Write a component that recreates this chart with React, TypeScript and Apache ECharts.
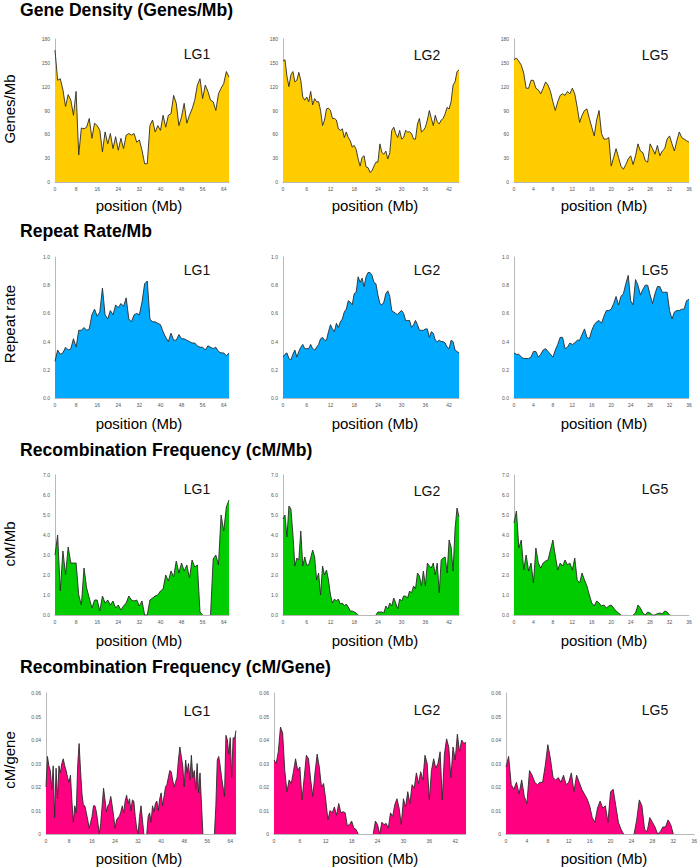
import React, { useEffect, useRef } from "react";
import * as echarts from "echarts";

const FONT = "'Liberation Sans', Arial, Helvetica, sans-serif";

// ---------- Row 1: Gene density (genes/Mb) ----------
const GD_LG1_STEP = 1;
const GD_LG1 = [166,128,130,116,95,110,103,84,114,34,
  68,67,69,80,55,74,71,65,38,63,
  48,61,42,57,40,55,42,59,61,59,
  61,50,53,40,23,23,71,78,63,71,
  65,84,69,84,86,109,99,71,82,99,
  74,84,92,103,122,130,105,122,114,103,
  101,90,111,118,124,139,132];
const GD_LG2_STEP = 0.5;
const GD_LG2 = [152,154,133,120,135,139,126,128,138,128,
  107,103,107,101,114,97,105,101,101,90,
  71,78,92,93,90,80,80,78,67,65,
  67,56,63,56,52,44,46,41,29,20,
  31,33,19,18,12,14,20,25,25,48,
  37,35,39,29,37,65,69,61,56,65,
  54,56,65,63,63,61,54,54,73,80,
  63,65,69,78,90,80,71,84,76,73,
  78,80,86,94,92,101,122,126,139,141];
const GD_LG5_STEP = 0.5;
const GD_LG5 = [154,156,152,147,137,118,118,128,128,118,
  116,111,118,126,122,114,101,90,101,109,
  111,109,114,111,118,111,94,75,84,90,
  92,80,69,58,78,90,61,54,54,56,
  20,31,42,31,20,16,22,29,33,22,
  33,48,39,37,27,25,48,42,35,46,
  33,39,42,54,58,48,39,52,63,56,
  54,52,50];

// ---------- Row 2: Repeat rate ----------
const RR_LG1_STEP = 1;
const RR_LG1 = [0.26,0.34,0.31,0.32,0.36,0.34,0.35,0.42,0.36,0.48,
  0.48,0.50,0.48,0.49,0.59,0.63,0.58,0.61,0.78,0.59,
  0.56,0.62,0.59,0.66,0.64,0.67,0.65,0.71,0.56,0.54,
  0.59,0.60,0.59,0.68,0.81,0.83,0.56,0.54,0.54,0.53,
  0.52,0.47,0.43,0.40,0.46,0.41,0.41,0.45,0.42,0.42,
  0.41,0.40,0.39,0.39,0.37,0.36,0.36,0.34,0.37,0.36,
  0.35,0.36,0.33,0.32,0.32,0.30,0.32];
const RR_LG2_STEP = 0.5;
const RR_LG2 = [0.29,0.31,0.32,0.28,0.27,0.31,0.34,0.29,0.33,0.36,
  0.38,0.35,0.35,0.35,0.38,0.35,0.34,0.36,0.38,0.42,
  0.43,0.41,0.41,0.47,0.52,0.49,0.47,0.53,0.50,0.54,
  0.56,0.61,0.63,0.69,0.68,0.66,0.74,0.75,0.86,0.82,
  0.85,0.79,0.86,0.89,0.89,0.87,0.82,0.81,0.73,0.67,
  0.66,0.68,0.74,0.76,0.72,0.62,0.61,0.60,0.59,0.61,
  0.62,0.60,0.55,0.55,0.55,0.50,0.52,0.55,0.52,0.48,
  0.48,0.48,0.49,0.49,0.43,0.47,0.46,0.41,0.40,0.41,
  0.40,0.40,0.39,0.36,0.35,0.41,0.40,0.34,0.33,0.32];
const RR_LG5_STEP = 0.5;
const RR_LG5 = [0.32,0.31,0.31,0.29,0.28,0.28,0.28,0.29,0.33,0.33,
  0.29,0.31,0.34,0.35,0.33,0.31,0.29,0.34,0.38,0.43,
  0.43,0.35,0.36,0.39,0.38,0.39,0.41,0.41,0.45,0.49,
  0.43,0.42,0.48,0.52,0.54,0.55,0.53,0.58,0.62,0.62,
  0.63,0.67,0.72,0.66,0.72,0.74,0.81,0.87,0.69,0.66,
  0.84,0.80,0.73,0.77,0.80,0.80,0.73,0.67,0.74,0.79,
  0.79,0.75,0.75,0.75,0.62,0.56,0.61,0.62,0.62,0.63,
  0.63,0.69,0.70];

// ---------- Row 3: Recombination frequency (cM/Mb) ----------
const RF_LG1_STEP = 1;
const RF_LG1 = [3.0,4.0,1.2,3.2,2.0,3.4,2.6,2.6,2.6,1.0,
  0.5,2.35,1.35,0.85,0.35,0.75,0.75,0.2,0.95,0.6,
  0.75,0.5,0.7,0.35,0.5,0.25,0.45,0.6,0.95,0.75,
  0.7,0.75,0.45,0.7,0,0,0.75,0.85,0.95,1.0,
  1.2,1.3,2.0,1.7,2.2,1.9,2.7,2.1,2.6,2.2,
  2.5,1.85,2.75,2.4,2.5,0.15,0,null,null,0,
  2.8,3.0,2.5,5.0,4.2,5.4,5.75];
const RF_LG2_STEP = 0.5;
const RF_LG2 = [4.8,5.0,3.9,5.45,5.3,4.05,2.45,2.85,2.75,4.2,
  2.45,2.9,2.5,2.5,2.85,3.25,2.9,1.75,2.1,1.0,
  2.45,2.0,2.25,1.75,1.0,0.6,0.8,0.7,0.8,0.55,
  0.6,0.45,0.55,0.4,0.2,0.2,0.15,0.1,0,null,
  null,null,null,null,null,null,null,0,0.15,0.15,
  0.15,0.1,0.45,0.3,0.6,0.45,0.85,0.6,0.3,0.8,
  0.7,0.95,0.95,0.85,1.2,1.1,1.45,1.3,2.1,1.95,
  1.45,2.2,1.45,2.6,2.45,2.35,2.6,2.0,2.6,1.1,
  2.75,2.85,2.9,2.1,3.75,3.4,2.2,4.3,5.35,4.9];
const RF_LG5_STEP = 0.5;
const RF_LG5 = [4.6,5.2,3.35,3.75,2.25,3.0,2.2,2.6,1.6,3.35,
  2.6,2.35,2.6,2.7,2.75,3.25,3.75,2.95,2.25,2.6,
  2.45,2.75,2.5,2.6,2.25,2.85,1.75,1.6,2.1,1.75,
  1.45,1.0,0.6,0.45,0.7,0.6,0.45,0.5,0.35,0.45,
  0.5,0.35,0.2,0.1,0,null,null,null,null,0,
  0.1,0.5,0.35,0.1,0,0.15,0.1,0,0,0.07,
  0.1,0.05,0.2,0.15,0,null,null,null,null,null,
  null,null,null];

// ---------- Row 4: Recombination frequency (cM/gene) ----------
const RG_LG1_STEP = 0.5;
const RG_LG1 = [0.020,0.033,0.029,0.027,0.019,0.029,0.007,0.028,0.015,0.029,
  0.026,0.030,0.032,0.029,0.027,0.024,0.022,0.025,0.014,0.005,
  0.012,0.009,0.029,0.0385,0.027,0.017,0.012,0.012,0.009,0.006,
  0.0025,0.005,0.0075,0.012,0.012,0.0095,0.005,0,0.0045,0.012,
  0.0195,0.0145,0.0095,0.012,0.013,0.016,0.012,0.0075,0.0025,0.006,
  0.007,0.0075,0.0095,0.012,0.009,0.014,0.0165,0.013,0.015,0.010,
  0.0145,0.014,0.0075,0.0025,0,0.0075,0.012,0.006,0,null,
  0,0.0075,0.009,0.005,0.012,0.0095,0.013,0.014,0.010,0.015,
  0.0175,0.012,0.016,0.020,0.021,0.024,0.027,0.0265,0.023,0.020,
  0.022,0.024,0.0315,0.037,0.033,0.029,0.020,0.0315,0.026,0.030,
  0.023,0.0335,0.024,0.027,0.019,0.030,0.0175,0.026,0.013,0,
  null,null,null,null,null,null,null,0,0.012,0.0315,
  0.033,0.029,0.024,0.020,0.016,0.042,0.040,0.034,0.041,0.024,
  0.041,0.0405,0.044];
const RG_LG2_STEP = 0.5;
const RG_LG2 = [0.0315,0.030,0.035,0.0455,0.043,0.027,0.018,0.023,0.0215,0.0265,
  0.032,0.027,0.0285,0.0145,0.024,0.0335,0.032,0.023,0.016,0.026,
  0.034,0.0285,0.020,0.0215,0.0145,0.006,0.010,0.009,0.0115,0.008,
  0.013,0.009,0.0095,0.009,0.0035,0.004,0.0055,0.0025,0.002,0,
  null,null,null,null,null,null,0,0.0055,0.004,0,
  0.005,0.004,0.0045,0.0025,0.009,0.0075,0.0125,0.015,0.011,0.004,
  0.015,0.0115,0.018,0.013,0.021,0.0195,0.026,0.0215,0.0265,0.023,
  0.0335,0.030,0.0145,0.027,0.032,0.028,0.030,0.035,0.0145,0.034,
  0.0405,0.037,0.024,0.037,0.0315,0.0425,0.035,0.040,0.0385,0.039];
const RG_LG5_STEP = 0.5;
const RG_LG5 = [0.0285,0.033,0.021,0.019,0.022,0.017,0.023,0.016,0.013,0.027,
  0.025,0.022,0.021,0.022,0.022,0.029,0.038,0.032,0.024,0.023,
  0.024,0.022,0.025,0.021,0.022,0.026,0.018,0.025,0.022,0.019,
  0.017,0.015,0.012,0.007,0.005,0.011,0.014,0.011,0.012,0.005,
  0.018,0.019,0.012,0.005,0.002,0,null,null,null,0,
  0.006,0.0145,0.012,0.002,0.001,0.007,0.005,0.003,0,0.001,
  0.003,0.003,0.006,0.004,0,null,null,null,null,null,
  null,null,null];

// ---------- Axes / labels ----------
const GROUPS = ["LG1", "LG2", "LG5"];
const X_MAX = [66, 44.5, 36];
const X_INTERVAL = [8, 6, 4];

const ROW_TITLES = [
  "Gene Density (Genes/Mb)",
  "Repeat Rate/Mb",
  "Recombination Frequency (cM/Mb)",
  "Recombination Frequency (cM/Gene)",
];
const Y_TITLES = ["Genes/Mb", "Repeat rate", "cM/Mb", "cM/gene"];
const Y_MAX = [180, 1.0, 7.0, 0.06];
const Y_INTERVAL = [30, 0.2, 1.0, 0.01];
const Y_DECIMALS = [0, 1, 1, 2];
const X_NAME = "position (Mb)";
const FILL = ["#FFCC00", "#00AAFF", "#00CC00", "#FF0080"];

const SERIES: [Array<number | null>, number][][] = [
  [[GD_LG1, GD_LG1_STEP], [GD_LG2, GD_LG2_STEP], [GD_LG5, GD_LG5_STEP]],
  [[RR_LG1, RR_LG1_STEP], [RR_LG2, RR_LG2_STEP], [RR_LG5, RR_LG5_STEP]],
  [[RF_LG1, RF_LG1_STEP], [RF_LG2, RF_LG2_STEP], [RF_LG5, RF_LG5_STEP]],
  [[RG_LG1, RG_LG1_STEP], [RG_LG2, RG_LG2_STEP], [RG_LG5, RG_LG5_STEP]],
];

// ---------- Layout (pixels) ----------
const ROW_TOP = [39, 257, 475, 693];
const ROW_BOTTOM = [182, 398, 615, 834];
const COL_LEFT = [[55, 283, 514], [55, 283, 514], [55, 283, 514], [46, 274, 506]];
const COL_RIGHT = [[229, 459, 689], [229, 459, 689], [229, 459, 689], [236, 466, 696]];
const TITLE_Y = [10, 231, 450, 667];
const LG_X = [197, 427, 655];
const LG_Y = [[54, 55, 55], [270, 270, 270], [489, 491, 489], [711, 710, 710]];
const POS_X = [139, 375, 604];
const POS_Y = [205, 423, 640, 858];
const YTITLE_X = 9;
const YTITLE_Y = [109, 324, 544, 760];

function buildOption() {
  const grid: any[] = [];
  const xAxis: any[] = [];
  const yAxis: any[] = [];
  const series: any[] = [];
  const graphic: any[] = [];

  for (let r = 0; r < 4; r++) {
    graphic.push({
      type: "text", x: 20, y: TITLE_Y[r],
      style: { text: ROW_TITLES[r], font: `bold 17.6px ${FONT}`, fill: "#000", textAlign: "left", textVerticalAlign: "middle" },
    });
    graphic.push({
      type: "text", x: YTITLE_X, y: YTITLE_Y[r], rotation: Math.PI / 2,
      style: { text: Y_TITLES[r], font: `15px ${FONT}`, fill: "#000", textAlign: "center", textVerticalAlign: "middle" },
    });
    for (let c = 0; c < 3; c++) {
      const i = r * 3 + c;
      grid.push({
        left: COL_LEFT[r][c], top: ROW_TOP[r],
        width: COL_RIGHT[r][c] - COL_LEFT[r][c], height: ROW_BOTTOM[r] - ROW_TOP[r],
        containLabel: false,
      });
      const xmax = X_MAX[c];
      const xint = X_INTERVAL[c];
      xAxis.push({
        type: "value", gridIndex: i, min: 0, max: xmax, interval: xint,
        axisLine: { show: true, onZero: false, lineStyle: { color: "#b8b8b8", width: 1 } },
        axisTick: { show: false }, splitLine: { show: false },
        axisLabel: {
          fontSize: 5, color: "#555", margin: 4, fontFamily: FONT,
          showMaxLabel: xmax % xint === 0,
          formatter: (v: number) => String(v),
        },
      });
      const dec = Y_DECIMALS[r];
      yAxis.push({
        type: "value", gridIndex: i, min: 0, max: Y_MAX[r], interval: Y_INTERVAL[r],
        axisLine: { show: true, lineStyle: { color: "#b8b8b8", width: 1 } },
        axisTick: { show: false }, splitLine: { show: false },
        axisLabel: {
          fontSize: 5, color: "#555", margin: 5, fontFamily: FONT,
          formatter: (v: number) => (v === 0 && r === 3 ? "0" : v.toFixed(dec)),
        },
      });
      const [vals, step] = SERIES[r][c];
      series.push({
        type: "line", xAxisIndex: i, yAxisIndex: i,
        data: vals.map((v, k) => [Math.round(k * step * 100) / 100, v === null ? "-" : v]),
        symbol: "none", showSymbol: false, connectNulls: false,
        lineStyle: { color: "#2a2a2a", width: 0.9 },
        areaStyle: { color: FILL[r], opacity: 1 },
        z: 2,
      });
      graphic.push({
        type: "text", x: LG_X[c], y: LG_Y[r][c],
        style: { text: GROUPS[c], font: `14px ${FONT}`, fill: "#111", textAlign: "center", textVerticalAlign: "middle" },
      });
      graphic.push({
        type: "text", x: POS_X[c], y: POS_Y[r],
        style: { text: X_NAME, font: `15px ${FONT}`, fill: "#000", textAlign: "center", textVerticalAlign: "middle" },
      });
    }
  }

  return {
    animation: false,
    backgroundColor: "#ffffff",
    grid, xAxis, yAxis, series, graphic,
  };
}

export default function App() {
  const ref = useRef<HTMLDivElement>(null);
  useEffect(() => {
    if (!ref.current) return;
    const chart = echarts.init(ref.current, null, { renderer: "svg" });
    chart.setOption(buildOption() as any);
    return () => chart.dispose();
  }, []);
  return (
    <div
      ref={ref}
      style={{ position: "absolute", left: 0, top: 0, width: 700, height: 867 }}
    />
  );
}
